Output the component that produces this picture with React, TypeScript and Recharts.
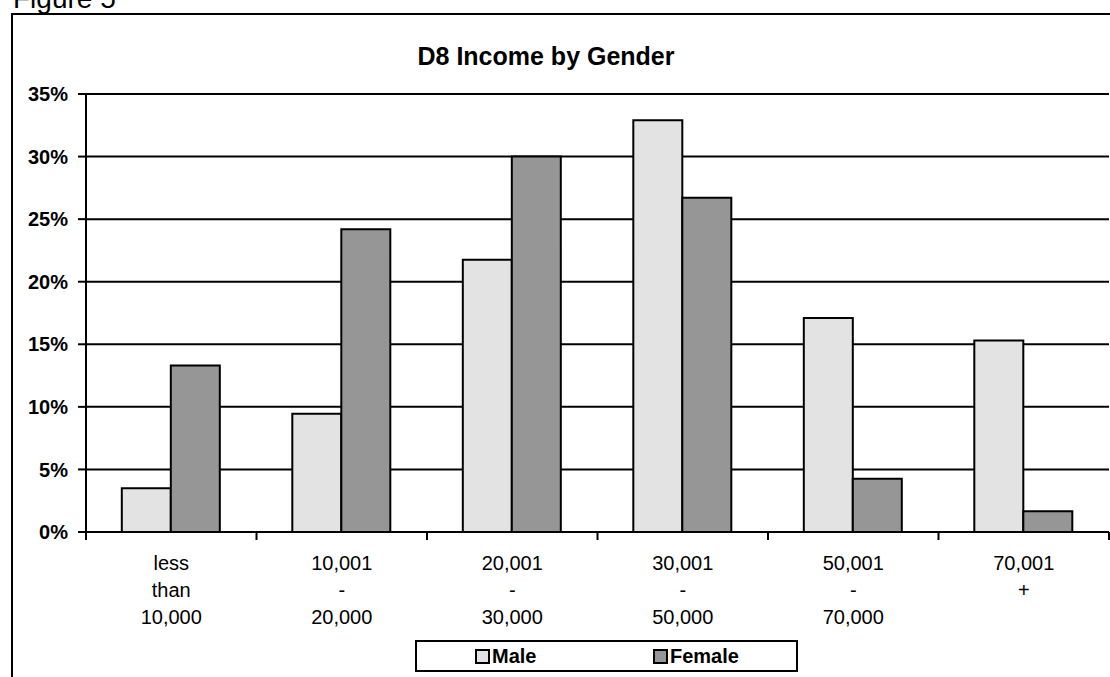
import React from 'react';
import { BarChart, Bar, XAxis, YAxis, CartesianGrid, Legend } from 'recharts';

const CATEGORIES = [
  'less\nthan\n10,000',
  '10,001\n-\n20,000',
  '20,001\n-\n30,000',
  '30,001\n-\n50,000',
  '50,001\n-\n70,000',
  '70,001\n+',
];
const MALE = [3.5, 9.45, 21.75, 32.9, 17.1, 15.3];
const FEMALE = [13.3, 24.2, 30.0, 26.7, 4.25, 1.65];
const SERIES = ['Male', 'Female'];
const Y_TICKS = [0, 5, 10, 15, 20, 25, 30, 35];

const FONT = '"Liberation Sans", Arial, sans-serif';
const W = 1110;
const H = 677;
// bottom margin is small because the legend reserves its own height below the axis
const M = { top: 94, right: 1, left: 10, bottom: 13 };
const Y_W = 76;
const PLOT_W = W - M.left - Y_W - M.right;
const BAND = PLOT_W / CATEGORIES.length;

const data = CATEGORIES.map((c, i) => ({ cat: c, Male: MALE[i], Female: FEMALE[i] }));

function XTick(props: any) {
  const { x, y, payload, index } = props;
  const lines = String(payload.value).split('\n');
  const last = index === CATEGORIES.length - 1;
  return (
    <g>
      <line x1={x - BAND / 2} x2={x - BAND / 2} y1={y} y2={y + 8} stroke="#000" strokeWidth={2} />
      {last && <line x1={x + BAND / 2} x2={x + BAND / 2} y1={y} y2={y + 8} stroke="#000" strokeWidth={2} />}
      <text textAnchor="middle" fontFamily={FONT} fontSize={20} fill="#000">
        {lines.map((l, i) => (
          <tspan key={i} x={x} y={y + 38 + i * 27}>{l}</tspan>
        ))}
      </text>
    </g>
  );
}

function LegendBox(props: any) {
  const items = [...(props.payload || [])].sort(
    (a: any, b: any) => SERIES.indexOf(a.value) - SERIES.indexOf(b.value)
  );
  const offsets = [58, 236];
  return (
    <div style={{ position: 'relative', width: 383, height: 32, border: '2px solid #000', boxSizing: 'border-box', background: '#fff', fontFamily: FONT }}>
      {items.map((it: any, i: number) => (
        <div key={it.value} style={{ position: 'absolute', left: offsets[i], top: 0, height: 28, display: 'flex', alignItems: 'center' }}>
          <span style={{ width: 11, height: 11, border: '2px solid #000', background: it.color, boxSizing: 'content-box', marginRight: 2 }} />
          <span style={{ fontSize: 20, fontWeight: 'bold', color: '#000' }}>{it.value}</span>
        </div>
      ))}
    </div>
  );
}

export default function App() {
  return (
    <div style={{ position: 'absolute', left: 0, top: 0, width: W, height: H, overflow: 'hidden', background: '#fff' }}>
      <div style={{ position: 'absolute', left: 11, top: 13, width: 1120, height: 700, border: '2px solid #000', boxSizing: 'border-box' }} />
      <svg style={{ position: 'absolute', left: 0, top: 0 }} width={W} height={H}>
        <text x={13} y={8} fontFamily={FONT} fontSize={28} fill="#000">Figure 5</text>
        <text x={546} y={65} textAnchor="middle" fontFamily={FONT} fontSize={25} fontWeight="bold" fill="#000">D8 Income by Gender</text>
      </svg>
      <div style={{ position: 'absolute', left: 0, top: 0 }}>
        <BarChart width={W} height={H} data={data} margin={M} barCategoryGap="21%" barGap={0}>
          <CartesianGrid horizontal vertical={false} stroke="#000" strokeWidth={2} />
          <XAxis
            dataKey="cat"
            interval={0}
            tick={<XTick />}
            tickLine={false}
            tickSize={0}
            tickMargin={0}
            height={100}
            axisLine={{ stroke: '#000', strokeWidth: 2 }}
          />
          <YAxis
            domain={[0, 35]}
            ticks={Y_TICKS}
            width={Y_W}
            tickFormatter={(v) => `${v}%`}
            tick={{ fontFamily: FONT, fontSize: 20, fontWeight: 'bold', fill: '#000' }}
            tickSize={8}
            tickMargin={10}
            tickLine={{ stroke: '#000', strokeWidth: 2 }}
            axisLine={{ stroke: '#000', strokeWidth: 2 }}
            allowDataOverflow
          />
          <YAxis yAxisId="right" orientation="right" width={0} tick={false} tickLine={false} axisLine={{ stroke: '#000', strokeWidth: 2 }} />
          <Legend content={<LegendBox />} wrapperStyle={{ left: 415, top: 640, width: 383, height: 32 }} />
          <Bar dataKey="Male" fill="#e3e3e3" stroke="#000" strokeWidth={2} isAnimationActive={false} />
          <Bar dataKey="Female" fill="#969696" stroke="#000" strokeWidth={2} isAnimationActive={false} />
        </BarChart>
      </div>
    </div>
  );
}
